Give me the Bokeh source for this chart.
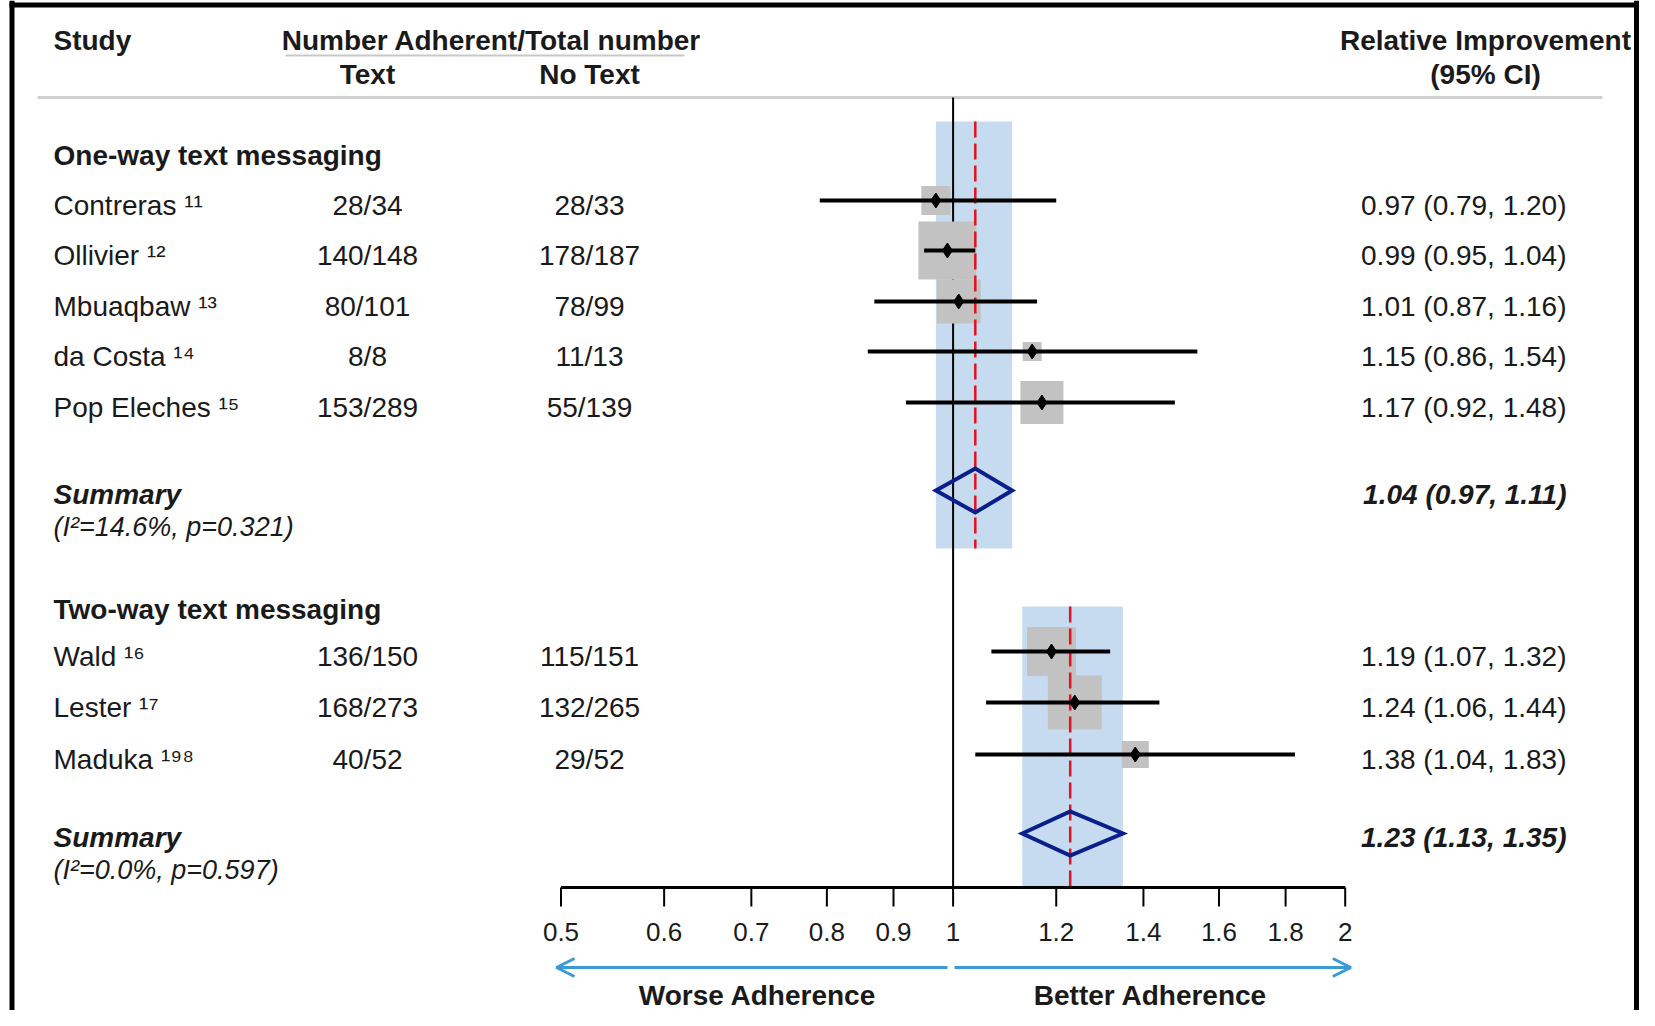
from bokeh.plotting import figure
from bokeh.models import Range1d, LogScale, Arrow, OpenHead
from bokeh.core.properties import value
from bokeh.embed import file_html
from bokeh.resources import INLINE

# ---------------- data ----------------
studies = ["Contreras \u00b9\u00b9", "Ollivier \u00b9\u00b2", "Mbuaqbaw \u00b9\u00b3", "da Costa \u00b9\u2074",
           "Pop Eleches \u00b9\u2075", "Wald \u00b9\u2076", "Lester \u00b9\u2077", "Maduka \u00b9\u2079\u2078"]
text_counts = ["28/34", "140/148", "80/101", "8/8", "153/289", "136/150", "168/273", "40/52"]
notext_counts = ["28/33", "178/187", "78/99", "11/13", "55/139", "115/151", "132/265", "29/52"]
rr = [0.97, 0.99, 1.01, 1.15, 1.17, 1.19, 1.24, 1.38]
rr_lo = [0.79, 0.95, 0.87, 0.86, 0.92, 1.07, 1.06, 1.04]
rr_hi = [1.20, 1.04, 1.16, 1.54, 1.48, 1.32, 1.44, 1.83]
weight_box = [29, 58, 44, 19, 43, 49, 54, 27]  # box size (study weight)

groups = ["One-way text messaging", "Two-way text messaging"]
sum_rr = [1.04, 1.23]
sum_lo = [0.97, 1.13]
sum_hi = [1.11, 1.35]
heterogeneity = ["(I\u00b2=14.6%, p=0.321)", "(I\u00b2=0.0%, p=0.597)"]

tick_values = [0.5, 0.6, 0.7, 0.8, 0.9, 1, 1.2, 1.4, 1.6, 1.8, 2]
tick_labels = ["0.5", "0.6", "0.7", "0.8", "0.9", "1", "1.2", "1.4", "1.6", "1.8", "2"]

# ---------------- layout (pixel rows of the page) ----------------
row_y = [200, 250, 301, 351, 402, 651, 702, 754]
text_dy = 5
group_y = [155, 609]
sum_y = [490, 833]
band_top = [121, 606]
band_bot = [548, 887]
axis_y = 887

FONT = value("Liberation Sans")
TXT = "#1a1a1a"
FS = "28px"

W, H = 1639, 1010
p = figure(width=W, height=H, x_range=Range1d(0, W), y_range=Range1d(H, 0),
           output_backend="svg", toolbar_location=None, min_border=0,
           x_axis_location=None, y_axis_location=None)
p.grid.visible = False
p.outline_line_color = None
p.background_fill_color = "white"
p.border_fill_color = "white"

# log scale for the forest part: 1 -> 952.6 px, one doubling = 392.1 px
x1, dbl = 952.6, 392.1
p.extra_x_ranges = {"rr": Range1d(2 ** ((0 - x1) / dbl), 2 ** ((W - x1) / dbl))}
p.extra_x_scales = {"rr": LogScale()}

# frame border
p.segment(x0=[11.5, 9, W - 3], y0=[0, 4.5, 0], x1=[11.5, W, W - 3], y1=[H, 4.5, H],
          line_color="black", line_width=5)

# header
p.text(x=[53], y=[40], text=["Study"], text_font=FONT, text_font_size=FS, text_font_style="bold",
       text_align="left", text_baseline="middle", text_color=TXT)
p.text(x=[491, 367, 589, 1485, 1485], y=[40, 74, 74, 40, 74],
       text=["Number Adherent/Total number", "Text", "No Text", "Relative Improvement", "(95% CI)"],
       text_font=FONT, text_font_size=FS, text_font_style="bold",
       text_align="center", text_baseline="middle", text_color=TXT)
p.segment(x0=[285], y0=[55], x1=[684], y1=[55], line_color="#c8c8c8", line_width=2)
p.segment(x0=[37], y0=[97], x1=[1602], y1=[97], line_color="#cfcfcf", line_width=3)

# group labels
p.text(x=[53, 53], y=group_y, text=groups, text_font=FONT, text_font_size=FS, text_font_style="bold",
       text_align="left", text_baseline="middle", text_color=TXT)

# study rows
ty = [y + text_dy for y in row_y]
ci_txt = [f"{a:.2f} ({b:.2f}, {c:.2f})" for a, b, c in zip(rr, rr_lo, rr_hi)]
p.text(x=[53] * len(studies), y=ty, text=studies, text_font=FONT, text_font_size=FS,
       text_align="left", text_baseline="middle", text_color=TXT)
p.text(x=[367] * len(studies), y=ty, text=text_counts, text_font=FONT, text_font_size=FS,
       text_align="center", text_baseline="middle", text_color=TXT)
p.text(x=[589] * len(studies), y=ty, text=notext_counts, text_font=FONT, text_font_size=FS,
       text_align="center", text_baseline="middle", text_color=TXT)
p.text(x=[1566] * len(studies), y=ty, text=ci_txt, text_font=FONT, text_font_size=FS,
       text_align="right", text_baseline="middle", text_color=TXT)

# summaries text
sum_txt = [f"{a:.2f} ({b:.2f}, {c:.2f})" for a, b, c in zip(sum_rr, sum_lo, sum_hi)]
p.text(x=[53, 53], y=[y + 4 for y in sum_y], text=["Summary", "Summary"], text_font=FONT,
       text_font_size=FS, text_font_style="bold italic", text_align="left", text_baseline="middle",
       text_color=TXT)
p.text(x=[53, 53], y=[y + 36 for y in sum_y], text=heterogeneity, text_font=FONT,
       text_font_size="27px", text_font_style="italic", text_align="left", text_baseline="middle",
       text_color=TXT)
p.text(x=[1566, 1566], y=[y + 4 for y in sum_y], text=sum_txt, text_font=FONT, text_font_size=FS,
       text_font_style="bold italic", text_align="right", text_baseline="middle", text_color=TXT)

# ---------------- forest ----------------
p.quad(left=sum_lo, right=sum_hi, top=band_top, bottom=band_bot, fill_color="#c6dbef",
       line_color=None, x_range_name="rr")
p.segment(x0=[1], y0=[97], x1=[1], y1=[axis_y], line_color="black", line_width=2, x_range_name="rr")
p.rect(x=rr, y=row_y, width=weight_box, height=weight_box, width_units="screen",
       height_units="screen", fill_color="#c2c2c2", line_color=None, x_range_name="rr")
p.segment(x0=sum_rr, y0=band_top, x1=sum_rr, y1=band_bot, line_color="#e3121f", line_width=2.5,
          line_dash="16 6", x_range_name="rr")
p.segment(x0=rr_lo, y0=row_y, x1=rr_hi, y1=row_y, line_color="black", line_width=4, x_range_name="rr")
p.scatter(x=rr, y=row_y, marker="diamond", size=15, fill_color="black", line_color="black",
          x_range_name="rr")
dh = 22
p.patches(xs=[[lo, m, hi, m] for lo, m, hi in zip(sum_lo, sum_rr, sum_hi)],
          ys=[[y, y - dh, y, y + dh] for y in sum_y], fill_color=None, line_color="#0b1f8c",
          line_width=4, line_join="miter", x_range_name="rr")

# axis
p.segment(x0=[tick_values[0]], y0=[axis_y], x1=[tick_values[-1]], y1=[axis_y], line_color="black",
          line_width=3, x_range_name="rr")
p.segment(x0=tick_values, y0=[axis_y] * len(tick_values), x1=tick_values,
          y1=[axis_y + 19] * len(tick_values), line_color="black", line_width=2, x_range_name="rr")
p.text(x=tick_values, y=[931] * len(tick_values), text=tick_labels, text_font=FONT,
       text_font_size="26px", text_align="center", text_baseline="middle", text_color=TXT,
       x_range_name="rr")

# direction arrows
AC = "#3a9ad6"
p.add_layout(Arrow(end=OpenHead(size=18, line_color=AC, line_width=3), x_start=0.99, y_start=967,
                   x_end=0.496, y_end=967, line_color=AC, line_width=3, x_range_name="rr"))
p.add_layout(Arrow(end=OpenHead(size=18, line_color=AC, line_width=3), x_start=1.0025, y_start=967,
                   x_end=2.02, y_end=967, line_color=AC, line_width=3, x_range_name="rr"))
p.text(x=[757, 1150], y=[995, 995], text=["Worse Adherence", "Better Adherence"], text_font=FONT,
       text_font_size=FS, text_font_style="bold", text_align="center", text_baseline="middle",
       text_color=TXT)

open("out.html", "w").write(file_html(p, INLINE))
